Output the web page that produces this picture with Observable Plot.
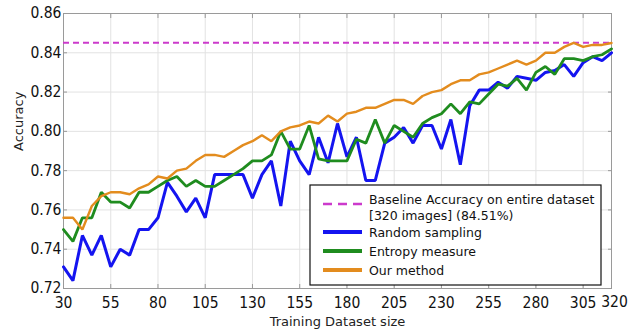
<!DOCTYPE html>
<html><head><meta charset="utf-8">
<script src="https://cdn.jsdelivr.net/npm/d3@7"></script>
<script src="https://cdn.jsdelivr.net/npm/@observablehq/plot@0.6"></script>
<style>
html,body{margin:0;padding:0;background:#fff;}
#chart{width:632px;height:335px;}
</style></head><body><div id="chart"></div>
<script>
const sizes = [30,35,40,45,50,55,60,65,70,75,80,85,90,95,100,105,110,115,120,125,130,135,140,145,150,155,160,165,170,175,180,185,190,195,200,205,210,215,220,225,230,235,240,245,250,255,260,265,270,275,280,285,290,295,300,305,310,315,320];
const randomSampling = [0.731,0.724,0.747,0.737,0.747,0.731,0.740,0.737,0.750,0.750,0.756,0.774,0.767,0.759,0.766,0.756,0.778,0.778,0.778,0.778,0.766,0.778,0.785,0.762,0.795,0.785,0.778,0.797,0.784,0.804,0.787,0.797,0.775,0.775,0.794,0.797,0.802,0.794,0.803,0.803,0.791,0.806,0.783,0.813,0.821,0.821,0.825,0.822,0.828,0.827,0.826,0.830,0.831,0.834,0.828,0.835,0.838,0.836,0.840];
const entropyMeasure = [0.750,0.744,0.756,0.756,0.769,0.764,0.764,0.761,0.769,0.769,0.772,0.775,0.777,0.772,0.775,0.772,0.772,0.775,0.778,0.781,0.785,0.785,0.788,0.800,0.791,0.791,0.803,0.786,0.785,0.785,0.785,0.796,0.794,0.806,0.794,0.803,0.800,0.797,0.804,0.807,0.809,0.814,0.809,0.815,0.814,0.819,0.824,0.823,0.827,0.821,0.830,0.833,0.829,0.837,0.837,0.836,0.838,0.839,0.842];
const ourMethod = [0.756,0.756,0.750,0.762,0.767,0.769,0.769,0.768,0.771,0.773,0.777,0.776,0.780,0.781,0.785,0.788,0.788,0.787,0.790,0.793,0.795,0.798,0.795,0.800,0.802,0.803,0.805,0.804,0.808,0.805,0.809,0.810,0.812,0.812,0.814,0.816,0.816,0.814,0.818,0.820,0.821,0.824,0.826,0.826,0.829,0.830,0.832,0.834,0.836,0.834,0.836,0.840,0.840,0.843,0.845,0.843,0.844,0.844,0.845];
const baseline = 0.8451;
const xTicks = [30,55,80,105,130,155,180,205,230,255,280,305,320];
const yTicks = [0.72,0.74,0.76,0.78,0.80,0.82,0.84,0.86];
const seriesNames = ["Random sampling","Entropy measure","Our method"];
const seriesColors = ["#1414f0","#1f8c1f","#e38c1e"];
const seriesWidths = [3,2.8,2.4];
const legendLines = ["Baseline Accuracy on entire dataset","[320 images] (84.51%)","Random sampling","Entropy measure","Our method"];
const baselineColor = "#cc3acc";

const seriesValues = [randomSampling, entropyMeasure, ourMethod];
const seriesMarks = seriesValues.map((vals, k) =>
  Plot.line(sizes.map((x, i) => ({x, y: vals[i]})), {x: "x", y: "y", stroke: seriesColors[k], strokeWidth: seriesWidths[k], strokeLinejoin: "miter"})
);

function legend(index, scales, values, dims) {
  const g = d3.create("svg:g");
  const right = dims.width - dims.marginRight - 10;
  const bottom = dims.height - dims.marginBottom - 3;
  const w = 291, h = 100;
  const x0 = right - w, y0 = bottom - h;
  g.append("rect").attr("x", x0).attr("y", y0).attr("width", w).attr("height", h)
    .attr("fill", "#fff").attr("stroke", "#111").attr("stroke-width", 1.2);
  const lx1 = x0 + 13, lx2 = x0 + 52, tx = x0 + 59;
  g.append("line").attr("x1", lx1).attr("x2", lx2).attr("y1", y0 + 19).attr("y2", y0 + 19)
    .attr("stroke", baselineColor).attr("stroke-width", 2.7).attr("stroke-dasharray", "9,6");
  const rows = [y0 + 47, y0 + 66, y0 + 85];
  rows.forEach((yy, k) => {
    g.append("line").attr("x1", lx1).attr("x2", lx2).attr("y1", yy).attr("y2", yy)
      .attr("stroke", seriesColors[k]).attr("stroke-width", 4);
  });
  const textY = [y0 + 14, y0 + 30, rows[0], rows[1], rows[2]];
  legendLines.forEach((t, i) => {
    g.append("text").attr("x", tx).attr("y", textY[i]).attr("dy", "0.36em")
      .attr("text-anchor", "start")
      .attr("font-family", "DejaVu Sans").attr("font-size", 12.5).attr("fill", "#111").text(t);
  });
  return g.node();
}

const tickStyle = {stroke: "#999", tickFormat: () => "", label: null};
const lastTick = xTicks[xTicks.length - 1];

const chart = Plot.plot({
  width: 632, height: 335,
  marginLeft: 63, marginRight: 21, marginTop: 13, marginBottom: 47,
  x: {domain: [30, 320]},
  y: {domain: [0.72, 0.86]},
  style: {fontFamily: "'Liberation Sans Narrow', 'DejaVu Sans Condensed', sans-serif", fontSize: "15.5px", background: "#fff", color: "#111"},
  marks: [
    Plot.gridX(xTicks, {stroke: "#e2e2e2", strokeOpacity: 1}),
    Plot.gridY(yTicks, {stroke: "#e2e2e2", strokeOpacity: 1}),
    Plot.frame({stroke: "#9a9a9a"}),
    Plot.axisX(xTicks.slice(0, -1), {anchor: "bottom", tickSize: 0, tickPadding: 8, label: null}),
    Plot.axisX([lastTick], {anchor: "bottom", tickSize: 0, tickPadding: 7, dx: 3, label: null}),
    Plot.axisY(yTicks, {anchor: "left", tickSize: 0, tickPadding: 2, tickFormat: d3.format(".2f"), label: null}),
    Plot.axisX(xTicks, {anchor: "top", tickSize: -4, ...tickStyle}),
    Plot.axisX(xTicks, {anchor: "bottom", tickSize: -4, ...tickStyle}),
    Plot.axisY(yTicks, {anchor: "left", tickSize: -4, ...tickStyle}),
    Plot.axisY(yTicks, {anchor: "right", tickSize: -4, ...tickStyle}),
    Plot.ruleY([baseline], {stroke: baselineColor, strokeWidth: 2, strokeDasharray: "6,4"}),
    ...seriesMarks,
    legend,
    Plot.text(["Training Dataset size"], {frameAnchor: "bottom", dy: 37, fontFamily: "DejaVu Sans", fontSize: 13, fill: "#222"}),
    Plot.text(["Accuracy"], {frameAnchor: "left", dx: -45, rotate: -90, fontFamily: "DejaVu Sans", fontSize: 13, fill: "#222"})
  ]
});
document.getElementById("chart").appendChild(chart);
</script>
</body></html>
